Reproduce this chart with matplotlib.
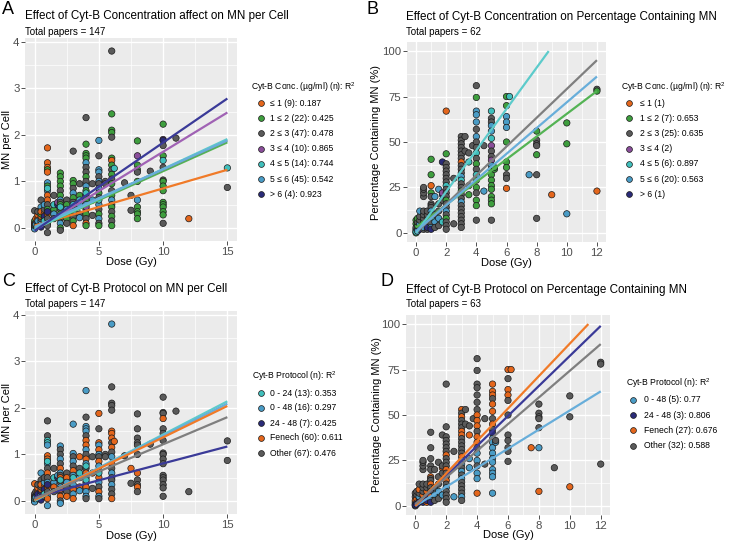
import numpy as np
import matplotlib
matplotlib.use("Agg")
import matplotlib.pyplot as plt
from matplotlib.lines import Line2D
from matplotlib.ticker import MultipleLocator

plt.rcParams["font.family"] = ["Liberation Sans", "DejaVu Sans"]
plt.rcParams["mathtext.fontset"] = "custom"
plt.rcParams["mathtext.rm"] = "Liberation Sans"

W, H = 729, 544

# ── DATA: MN per cell (panels A and C share the points) ──────────────────────
mn_dose = [0, 0, 0, 0, 0, 0, 0, 0, 0, 0, 0, 0,
           0.1, 0.1, 0.1, 0.1,
           0.25, 0.25, 0.25, 0.25, 0.25, 0.25,
           0.5, 0.5, 0.5, 0.5, 0.5, 0.5, 0.5, 0.5, 0.5, 0.5, 0.5,
           0.75, 0.75, 0.75, 0.75, 0.75, 0.75, 0.75,
           1, 1, 1, 1, 1, 1, 1, 1, 1, 1, 1, 1, 1, 1, 1, 1, 1, 1, 1,
           1.5, 1.5, 1.5, 1.5, 1.5,
           1.8, 1.8,
           2, 2, 2, 2, 2, 2, 2, 2, 2, 2, 2, 2, 2, 2, 2, 2, 2,
           2.5, 2.5, 2.5, 2.5, 2.5, 2.5,
           3, 3, 3, 3, 3, 3, 3, 3, 3, 3, 3, 3, 3,
           3.5, 3.5, 3.5, 3.5, 3.5, 3.5,
           4, 4, 4, 4, 4, 4, 4, 4, 4, 4, 4, 4, 4, 4, 4, 4, 4, 4, 4, 4, 4, 4,
           4.5, 4.5, 4.5,
           5, 5, 5, 5, 5, 5, 5, 5, 5, 5, 5, 5, 5, 5, 5, 5, 5,
           5.5, 5.5,
           6, 6, 6, 6, 6, 6, 6, 6, 6, 6, 6, 6, 6, 6, 6, 6, 6, 6, 6, 6, 6,
           6.2, 7, 7.5, 7.5,
           8, 8, 8, 8, 8, 8, 8, 8, 8, 8, 8,
           9,
           10, 10, 10, 10, 10, 10, 10, 10, 10, 10, 10, 10, 10, 10, 10, 10, 10,
           11, 12, 15, 15]
mn_value = [0.00, 0.02, 0.04, 0.06, 0.01, 0.10, 0.03, 0.37, -0.02, 0.15, 0.08, 0.05,
            0.05, 0.12, 0.20, 0.08,
            0.10, 0.20, 0.28, 0.05, 0.15, 0.35,
            0.05, 0.10, 0.15, 0.20, 0.25, 0.30, 0.40, 0.60, 0.45, 0.35, 0.02,
            0.10, 0.20, 0.30, 0.40, 0.50, 0.25, 0.15,
            1.72, 1.40, 1.30, 1.25, 1.20, 0.97, 0.90, 0.80, 0.70, 0.60, 0.50, 0.40, 0.30, 0.20, 0.10, 0.05, -0.10, 0.35, 0.85,
            0.70, 0.40, 0.30, 0.20, 0.50,
            0.50, 0.55,
            1.18, 1.10, 1.00, 0.90, 0.80, 0.70, 0.60, 0.55, 0.50, 0.40, 0.30, 0.20, 0.10, 0.00, -0.05, 0.45, 0.25,
            0.60, 0.50, 0.40, 0.30, 0.20, 0.10,
            1.65, 1.02, 0.95, 0.85, 0.75, 0.65, 0.55, 0.45, 0.35, 0.25, 0.15, 0.05, 0.50,
            0.95, 0.70, 0.50, 0.30, 0.22, 0.60,
            2.37, 1.80, 1.60, 1.55, 1.50, 1.40, 1.30, 1.20, 1.10, 1.00, 0.90, 0.80, 0.70, 0.60, 0.50, 0.40, 0.30, 0.20, 0.10, 0.05, 0.75, 0.45,
            0.95, 0.60, 0.27,
            1.88, 1.55, 1.25, 1.20, 1.10, 1.00, 0.95, 0.85, 0.75, 0.65, 0.50, 0.40, 0.30, 0.20, 0.10, 0.05, 0.60,
            1.00, 0.95,
            3.80, 2.45, 2.10, 2.05, 1.95, 1.50, 1.45, 1.35, 1.25, 1.15, 1.05, 0.95, 0.80, 0.70, 0.60, 0.50, 0.45, 0.35, 0.25, 0.15, 0.05,
            1.28, 0.97, 0.38, 0.70,
            1.87, 1.55, 1.35, 1.25, 1.20, 1.00, 0.60, 0.45, 0.35, 0.30, 0.20,
            1.22,
            2.23, 1.90, 1.88, 1.77, 1.55, 1.45, 1.30, 1.03, 1.00, 0.90, 0.80, 0.55, 0.50, 0.45, 0.35, 0.28, 0.10,
            1.93, 0.20, 1.29, 0.87]
# Cyt-B concentration group: 0 "<=1", 1 "1-2", 2 "2-3", 3 "3-4", 4 "4-5", 5 "5-6", 6 ">6"
mn_conc = [2, 1, 5, 0, 4, 2, 6, 2, 5, 1, 0, 2,
           1, 2, 0, 5,
           2, 0, 0, 1, 5, 2,
           1, 2, 5, 2, 0, 1, 2, 2, 5, 0, 6,
           2, 1, 0, 2, 5, 6, 4,
           0, 0, 0, 1, 0, 5, 1, 5, 0, 0, 2, 1, 0, 2, 1, 2, 2, 6, 4,
           2, 1, 5, 2, 4,
           6, 3,
           1, 1, 1, 1, 2, 1, 5, 2, 1, 2, 1, 2, 5, 1, 2, 4, 0,
           2, 1, 5, 2, 1, 2,
           2, 1, 1, 2, 5, 1, 2, 1, 5, 2, 1, 0, 4,
           2, 1, 5, 2, 5, 4,
           2, 1, 1, 1, 1, 5, 2, 2, 1, 2, 5, 1, 2, 1, 5, 2, 1, 2, 0, 1, 4, 3,
           2, 5, 2,
           5, 2, 5, 5, 2, 5, 2, 5, 1, 2, 5, 2, 1, 5, 2, 1, 4,
           2, 2,
           2, 1, 1, 1, 2, 1, 0, 1, 2, 1, 2, 1, 2, 1, 5, 2, 1, 2, 1, 2, 1,
           4, 2, 2, 2,
           1, 3, 1, 1, 2, 1, 5, 1, 1, 1, 1,
           2,
           1, 3, 6, 2, 1, 4, 2, 2, 1, 1, 1, 1, 1, 1, 1, 1, 2,
           2, 0, 4, 2]
# Cyt-B protocol group: 0 "0-24", 1 "0-48", 2 "24-48", 3 "Fenech", 4 "Other"
mn_proto = [4, 3, 1, 3, 0, 4, 2, 3, 1, 4, 3, 0,
            3, 2, 4, 1,
            4, 3, 3, 1, 2, 4,
            4, 3, 1, 2, 3, 4, 1, 1, 4, 3, 2,
            4, 3, 3, 1, 4, 2, 0,
            4, 4, 0, 0, 1, 3, 3, 1, 4, 3, 4, 1, 3, 4, 1, 3, 1, 2, 0,
            4, 1, 3, 4, 0,
            2, 1,
            1, 4, 4, 1, 4, 3, 1, 4, 3, 4, 1, 4, 3, 4, 1, 0, 3,
            4, 3, 1, 4, 4, 3,
            1, 1, 4, 1, 4, 3, 1, 4, 1, 3, 1, 3, 0,
            3, 4, 1, 3, 1, 0,
            1, 4, 1, 1, 1, 4, 3, 3, 1, 4, 3, 1, 4, 3, 1, 4, 3, 1, 1, 4, 0, 0,
            4, 3, 4,
            3, 4, 3, 1, 3, 1, 4, 3, 1, 4, 3, 1, 4, 3, 1, 4, 0,
            4, 4,
            1, 4, 4, 4, 4, 3, 3, 3, 4, 3, 4, 1, 3, 4, 1, 4, 4, 1, 4, 4, 3,
            3, 4, 4, 3,
            4, 4, 4, 4, 4, 4, 3, 4, 4, 3, 4,
            4,
            4, 4, 4, 3, 4, 4, 4, 4, 4, 4, 4, 4, 4, 4, 4, 4, 4,
            4, 4, 4, 4]

# ── DATA: percentage containing MN (panels B and D share the points) ─────────
pct_dose = [0, 0, 0, 0, 0, 0, 0,
            0.1, 0.1, 0.1, 0.1, 0.1,
            0.25, 0.25, 0.25, 0.25, 0.25, 0.25,
            0.5, 0.5, 0.5, 0.5, 0.5, 0.5, 0.5, 0.5, 0.5, 0.5, 0.5,
            0.75, 0.75, 0.75, 0.75, 0.75, 0.75, 0.75,
            1, 1, 1, 1, 1, 1, 1, 1, 1, 1, 1, 1, 1, 1,
            1.25, 1.25, 1.25, 1.25,
            1.5, 1.5, 1.5, 1.5, 1.5,
            1.75, 1.75, 1.75, 1.75, 1.75,
            2, 2, 2, 2, 2, 2, 2, 2, 2, 2, 2, 2, 2, 2, 2, 2, 2, 2, 2, 2, 2,
            2.5, 2.5,
            3, 3, 3, 3, 3, 3, 3, 3, 3, 3, 3, 3, 3, 3, 3, 3, 3, 3, 3, 3, 3, 3, 3, 3, 3, 3,
            3.25, 3.25,
            3.5, 3.5, 3.5, 3.5,
            3.75,
            4, 4, 4, 4, 4, 4, 4, 4, 4, 4, 4, 4, 4, 4, 4, 4, 4, 4, 4, 4,
            4.5, 4.5,
            5, 5, 5, 5, 5, 5, 5, 5, 5, 5, 5, 5, 5, 5, 5, 5, 5, 5, 5, 5,
            5.2, 5.2,
            6, 6, 6, 6, 6, 6, 6, 6, 6, 6, 6,
            6.2, 7.5,
            8, 8, 8, 8, 8, 8, 8,
            9, 10, 10, 10, 12, 12, 12]
pct_value = [0, 1, 2, 5, 7, 3, 0.5,
             2, 4, 6, 8, 1,
             3, 5, 7, 9, 12, 2,
             2, 4, 6, 8, 10, 12, 20, 22, 24, 25, 3,
             2, 4, 6, 8, 10, 12, 3,
             40.5, 32, 26, 22, 20, 16, 15, 14, 12, 10, 8, 5, 3, 2,
             20, 10, 6, 3,
             24, 12, 8, 4, 16,
             39, 21, 22, 18, 6,
             67, 43.5, 38, 36, 34, 32, 30, 28, 26, 24, 22, 20, 18, 16, 14, 12, 10, 8, 6, 4, 2,
             5, 30,
             53, 51, 49, 47, 45, 43, 41, 39, 37, 35, 33, 31, 29, 27, 25, 23, 21, 19, 17, 15, 13, 11, 9, 7, 5, 3,
             53, 45,
             39, 21, 26, 44,
             48,
             81, 74.5, 67, 65, 61, 57, 53, 50, 47, 44, 41, 38, 35, 32, 29, 25, 22, 18, 15, 7,
             23, 48,
             67, 63, 61, 59, 56, 52, 48, 45, 42, 40, 37, 35, 32, 29, 26, 24, 20, 18, 16, 7,
             35, 36,
             75, 70, 64, 61, 58, 50, 39, 36, 32, 30, 24.5,
             75, 32,
             56, 51, 49, 48, 43, 32, 8,
             21, 60.5, 49, 10.5, 79, 78, 23]
pct_conc = [1, 2, 5, 1, 1, 2, 4,
            2, 1, 2, 1, 5,
            2, 5, 2, 2, 5, 6,
            2, 2, 1, 2, 2, 2, 2, 2, 2, 2, 5,
            2, 5, 2, 2, 2, 2, 6,
            1, 1, 0, 1, 2, 2, 2, 2, 5, 2, 4, 2, 5, 6,
            5, 2, 5, 2,
            5, 2, 5, 2, 2,
            6, 6, 3, 2, 4,
            0, 1, 2, 2, 2, 2, 2, 2, 4, 2, 2, 2, 1, 2, 2, 5, 2, 1, 2, 2, 2,
            2, 2,
            2, 2, 2, 2, 2, 2, 2, 0, 2, 2, 2, 5, 4, 2, 2, 1, 2, 2, 5, 2, 2, 2, 2, 2, 2, 2,
            2, 2,
            4, 1, 2, 2,
            2,
            2, 1, 5, 5, 5, 2, 5, 2, 2, 4, 2, 1, 2, 4, 1, 1, 2, 1, 1, 2,
            5, 2,
            4, 2, 2, 5, 5, 4, 3, 2, 2, 3, 5, 1, 1, 1, 1, 1, 1, 1, 1, 2,
            1, 1,
            1, 1, 5, 5, 5, 1, 1, 1, 2, 2, 0,
            4, 5,
            1, 2, 2, 2, 1, 2, 2,
            0, 1, 1, 5, 2, 1, 0]
# protocol group for panel D: 0 "0-48", 1 "24-48", 2 "Fenech", 3 "Other"
pct_proto = [3, 3, 0, 3, 3, 2, 1,
             3, 2, 3, 3, 1,
             3, 0, 3, 2, 3, 1,
             1, 3, 2, 3, 3, 3, 3, 3, 3, 3, 0,
             2, 3, 3, 2, 3, 3, 1,
             3, 3, 3, 3, 3, 2, 3, 3, 2, 3, 3, 2, 0, 1,
             3, 3, 0, 3,
             3, 3, 0, 3, 3,
             3, 2, 3, 3, 0,
             3, 3, 3, 3, 3, 3, 3, 2, 3, 3, 3, 2, 3, 3, 2, 3, 0, 3, 3, 3, 3,
             0, 3,
             2, 3, 2, 3, 3, 3, 2, 2, 3, 3, 3, 3, 3, 2, 0, 0, 3, 0, 3, 0, 3, 3, 3, 3, 0, 3,
             3, 3,
             2, 0, 0, 3,
             3,
             3, 3, 3, 3, 3, 3, 3, 2, 2, 2, 3, 2, 2, 3, 0, 0, 3, 0, 0, 2,
             3, 3,
             2, 2, 2, 3, 2, 2, 3, 2, 3, 1, 0, 0, 0, 0, 0, 0, 0, 0, 0, 0,
             0, 3,
             2, 3, 2, 2, 3, 3, 3, 3, 3, 3, 3,
             2, 2,
             3, 3, 3, 3, 3, 0, 2,
             3, 3, 3, 2, 3, 3, 3]

# ── DATA: fitted lines (x0, y0, x1, y1) ──────────────────────────────────────
conc_labels_a = ["≤ 1 (9): 0.187", "1 ≤ 2 (22): 0.425", "2 ≤ 3 (47): 0.478", "3 ≤ 4 (10): 0.865",
                 "4 ≤ 5 (14): 0.744", "5 ≤ 6 (45): 0.542", "> 6 (4): 0.923"]
conc_fit_a = [(0, 0.05, 15, 1.25), (0, -0.02, 15, 1.84), (0, 0.00, 15, 1.88), (0, -0.05, 15, 2.48),
              (0, -0.02, 15, 1.91), (0, 0.02, 15, 1.88), (0, -0.06, 15, 2.78)]

conc_labels_b = ["≤ 1 (1)", "1 ≤ 2 (7): 0.653", "2 ≤ 3 (25): 0.635", "3 ≤ 4 (2)",
                 "4 ≤ 5 (6): 0.897", "5 ≤ 6 (20): 0.563", "> 6 (1)"]
conc_fit_b = [None, (0, 3, 12, 78), (0, 0, 12, 95), None,
              (0, 0, 8.8, 100), (0, 1, 12, 86), None]

proto_labels_c = ["0 - 24 (13): 0.353", "0 - 48 (16): 0.297", "24 - 48 (7): 0.425",
                  "Fenech (60): 0.611", "Other (67): 0.476"]
proto_fit_c = [(0, 0.00, 15, 2.14), (0, 0.02, 15, 2.09), (0, 0.08, 15, 1.17),
               (0, 0.02, 15, 2.04), (0, 0.05, 15, 1.80)]

proto_labels_d = ["0 - 48 (5): 0.77", "24 - 48 (3): 0.806", "Fenech (27): 0.676", "Other (32): 0.588"]
proto_fit_d = [(0, 0, 12, 63), (0, 0, 12, 99), (0, 0, 11.2, 100), (0, 1, 12, 89)]

# ── COLOURS ──────────────────────────────────────────────────────────────────
conc_pt = ["#E4661C", "#3E9E3E", "#5A5A5A", "#8A4E9A", "#40BFBC", "#4A9CC6", "#2A2B78"]
conc_ln = ["#F07A28", "#54B354", "#7F7F7F", "#A062B4", "#5CCBCB", "#68AEDA", "#3A3A98"]
proto_c_pt = ["#40BFBC", "#4A9CC6", "#2A2B78", "#E4661C", "#5A5A5A"]
proto_c_ln = ["#5CCBCB", "#68AEDA", "#3A3A98", "#F07A28", "#7F7F7F"]
proto_d_pt = ["#4A9CC6", "#2A2B78", "#E4661C", "#5A5A5A"]
proto_d_ln = ["#68AEDA", "#3A3A98", "#F07A28", "#7F7F7F"]

fig = plt.figure(figsize=(W / 100, H / 100), dpi=100)
fig.patch.set_facecolor("white")


def fx(x):
    return x / W


def fy(y):
    return 1 - y / H


def make_axes(l, t, r, b, xlab_y, ylab_x):
    ax = fig.add_axes([fx(l), fy(b), (r - l) / W, (b - t) / H])
    ax.set_facecolor("#EBEBEB")
    for s in ax.spines.values():
        s.set_visible(False)
    ax.grid(True, which="major", color="white", linewidth=1.0)
    ax.grid(True, which="minor", color="white", linewidth=0.5)
    ax.set_axisbelow(True)
    ax.tick_params(which="major", length=2.8, width=0.6, color="#333333",
                   labelsize=8.2, labelcolor="#4D4D4D", pad=1.2)
    ax.tick_params(which="minor", length=0)
    ax.set_xlabel("Dose (Gy)", fontsize=8.0, va="center")
    ax.xaxis.set_label_coords(0.5, (b - xlab_y) / (b - t))
    ax.yaxis.label.set_va("center")
    ax.yaxis.set_label_coords((ylab_x - l) / (r - l), 0.5)
    return ax


def draw_panel(ax, dose, vals, groups, pt_cols, fits, ln_cols):
    ax.scatter(dose, vals, c=[pt_cols[g] for g in groups], s=21,
               edgecolors="#1A1A1A", linewidths=0.5, zorder=2)
    for f, c in zip(fits, ln_cols):
        if f is None:
            continue
        ax.plot([f[0], f[2]], [f[1], f[3]], color=c, linewidth=1.6,
                solid_capstyle="butt", zorder=3)


def draw_legend(title, labels, cols, x_title, y_title, x_key, x_text, y0, step):
    fig.text(fx(x_title), fy(y_title), title, fontsize=6.2, va="center", ha="left")
    for i, (lab, c) in enumerate(zip(labels, cols)):
        y = y0 + step * i
        fig.add_artist(Line2D([fx(x_key)], [fy(y)], transform=fig.transFigure,
                              marker="o", markersize=4.2, linestyle="",
                              markerfacecolor=c, markeredgecolor="#1A1A1A",
                              markeredgewidth=0.5))
        fig.text(fx(x_text), fy(y), lab, fontsize=6.2, va="center", ha="left")


def headings(letter, lx, ly, title, subtitle, tx, ty, sy):
    fig.text(fx(lx), fy(ly), letter, fontsize=13, va="center", ha="left")
    fig.text(fx(tx), fy(ty), title, fontsize=8.4, va="center", ha="left")
    fig.text(fx(tx), fy(sy), subtitle, fontsize=7.0, va="center", ha="left")


# ── PANEL A ──────────────────────────────────────────────────────────────────
axA = make_axes(25, 38, 237, 241, 262, 6.5)
draw_panel(axA, mn_dose, mn_value, mn_conc, conc_pt, conc_fit_a, conc_ln)
axA.set_xlim(-0.75, 15.75)
axA.set_ylim(-0.28, 4.08)
axA.xaxis.set_major_locator(MultipleLocator(5))
axA.xaxis.set_minor_locator(MultipleLocator(2.5))
axA.yaxis.set_major_locator(MultipleLocator(1))
axA.yaxis.set_minor_locator(MultipleLocator(0.5))
axA.set_ylabel("MN per Cell", fontsize=8.0)
headings("A", 2, 10, "Effect of Cyt-B Concentration affect on MN per Cell",
         "Total papers = 147", 25, 16, 32)
draw_legend("Cyt-B Conc. (µg/ml) (n): R$\\mathregular{^2}$", conc_labels_a, conc_pt,
            251, 87, 261, 270, 103, 15.2)

# ── PANEL B ──────────────────────────────────────────────────────────────────
axB = make_axes(407, 42, 606, 242, 263, 376)
draw_panel(axB, pct_dose, pct_value, pct_conc, conc_pt, conc_fit_b, conc_ln)
axB.set_xlim(-0.6, 12.6)
axB.set_ylim(-5, 105)
axB.xaxis.set_major_locator(MultipleLocator(2))
axB.xaxis.set_minor_locator(MultipleLocator(1))
axB.yaxis.set_major_locator(MultipleLocator(25))
axB.yaxis.set_minor_locator(MultipleLocator(12.5))
axB.set_ylabel("Percentage Containing MN (%)", fontsize=8.0)
headings("B", 367, 9, "Effect of Cyt-B Concentration on Percentage Containing MN",
         "Total papers = 62", 406, 17, 32)
draw_legend("Cyt-B Conc. (µg/ml) (n): R$\\mathregular{^2}$", conc_labels_b, conc_pt,
            621, 87, 629, 640, 103, 15.2)

# ── PANEL C ──────────────────────────────────────────────────────────────────
axC = make_axes(25, 311, 237, 514, 536, 6.5)
draw_panel(axC, mn_dose, mn_value, mn_proto, proto_c_pt, proto_fit_c, proto_c_ln)
axC.set_xlim(-0.75, 15.75)
axC.set_ylim(-0.28, 4.08)
axC.xaxis.set_major_locator(MultipleLocator(5))
axC.xaxis.set_minor_locator(MultipleLocator(2.5))
axC.yaxis.set_major_locator(MultipleLocator(1))
axC.yaxis.set_minor_locator(MultipleLocator(0.5))
axC.set_ylabel("MN per Cell", fontsize=8.0)
headings("C", 2, 282, "Effect of Cyt-B Protocol on MN per Cell",
         "Total papers = 147", 25, 289, 304)
draw_legend("Cyt-B Protocol (n): R$\\mathregular{^2}$", proto_labels_c, proto_c_pt,
            252, 376, 261, 270, 393, 15.0)

# ── PANEL D ──────────────────────────────────────────────────────────────────
axD = make_axes(406, 315, 610, 515, 535, 377)
draw_panel(axD, pct_dose, pct_value, pct_proto, proto_d_pt, proto_fit_d, proto_d_ln)
axD.set_xlim(-0.6, 12.6)
axD.set_ylim(-5, 105)
axD.xaxis.set_major_locator(MultipleLocator(2))
axD.xaxis.set_minor_locator(MultipleLocator(1))
axD.yaxis.set_major_locator(MultipleLocator(25))
axD.yaxis.set_minor_locator(MultipleLocator(12.5))
axD.set_ylabel("Percentage Containing MN (%)", fontsize=8.0)
headings("D", 380, 282, "Effect of Cyt-B Protocol on Percentage Containing MN",
         "Total papers = 63", 406, 290, 304)
draw_legend("Cyt-B Protocol (n): R$\\mathregular{^2}$", proto_labels_d, proto_d_pt,
            626, 383, 633, 644, 400, 15.2)

fig.savefig("out.png", dpi=100, facecolor="white")
